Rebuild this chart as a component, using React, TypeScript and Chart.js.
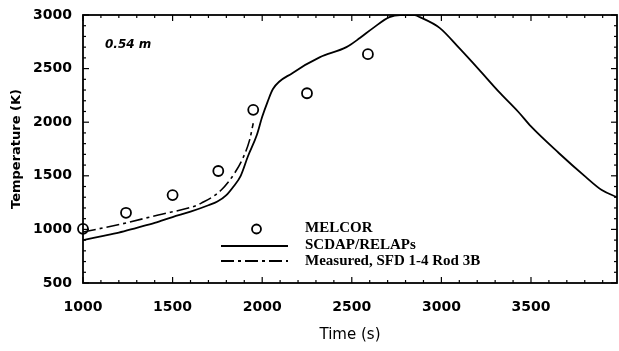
import React, { useEffect, useRef } from "react";
import { Chart, registerables } from "chart.js";

Chart.register(...registerables);

// ---- data ----
const melcorTime = [1000, 1240, 1500, 1755, 1950, 2250, 2590];
const melcorTemp = [1005, 1155, 1320, 1545, 2115, 2270, 2635];

const scdapTime = [1000, 1100, 1200, 1300, 1400, 1500, 1600, 1700, 1750, 1800, 1840, 1880, 1920, 1970, 2000, 2030, 2060, 2170, 2320, 2470, 2545, 2620, 2710, 2770, 2850, 2880, 2990, 3100, 3210, 3320, 3430, 3500, 3655, 3805, 3895, 3980];
const scdapTemp = [900, 935, 970, 1015, 1060, 1115, 1165, 1225, 1260, 1320, 1400, 1500, 1680, 1880, 2050, 2190, 2310, 2460, 2605, 2700, 2785, 2880, 2980, 3000, 3000, 2980, 2880, 2690, 2490, 2285, 2095, 1960, 1713, 1490, 1367, 1300];

const measuredTime = [1000, 1240, 1420, 1610, 1660, 1770, 1850, 1895, 1930, 1950];
const measuredTemp = [975, 1060, 1135, 1210, 1245, 1365, 1535, 1675, 1835, 1990];

const legendLabels = ["MELCOR", "SCDAP/RELAPs", "Measured, SFD 1-4 Rod 3B"];
const annotationText = "0.54 m";
const xTitle = "Time (s)";
const yTitle = "Temperature (K)";

const X_MIN = 1000;
const X_MAX = 3980;
const Y_MIN = 500;
const Y_MAX = 3000;
const MAJOR_X = 500;
const MAJOR_Y = 500;
const MINOR = 100;

const DASH_DOT = [13, 4, 3, 4];

const pts = (xs: number[], ys: number[]) => xs.map((x, i) => ({ x, y: ys[i] }));

const decorPlugin = {
  id: "decor",
  afterDraw(chart: any) {
    const { ctx, chartArea: a, scales } = chart;
    const xs = scales.x;
    const ys = scales.y;
    ctx.save();
    ctx.strokeStyle = "#000";
    ctx.fillStyle = "#000";
    ctx.lineWidth = 1.8;
    ctx.strokeRect(a.left, a.top, a.right - a.left, a.bottom - a.top);
    ctx.lineWidth = 1.2;
    const seg = (x1: number, y1: number, x2: number, y2: number) => {
      ctx.beginPath();
      ctx.moveTo(x1, y1);
      ctx.lineTo(x2, y2);
      ctx.stroke();
    };
    for (let v = X_MIN; v <= X_MAX; v += MINOR) {
      const px = xs.getPixelForValue(v);
      const len = v % MAJOR_X === 0 ? 6 : 3;
      seg(px, a.bottom, px, a.bottom - len);
      seg(px, a.top, px, a.top + len);
    }
    for (let v = Y_MIN; v <= Y_MAX; v += MINOR) {
      const py = ys.getPixelForValue(v);
      const len = v % MAJOR_Y === 0 ? 6 : 3;
      seg(a.left, py, a.left + len, py);
      seg(a.right, py, a.right - len, py);
    }

    // annotation
    ctx.font = "italic bold 12px 'DejaVu Sans'";
    ctx.textBaseline = "middle";
    ctx.textAlign = "left";
    ctx.fillText(annotationText, a.left + 22, a.top + 30);

    // legend
    const lx1 = a.left + 138;
    const lx2 = a.left + 205;
    const tx = a.left + 222;
    const rows = [a.top + 213, a.top + 230, a.top + 246];
    ctx.lineWidth = 1.8;
    ctx.beginPath();
    ctx.arc((lx1 + lx2) / 2 + 2, rows[0] + 1, 4.5, 0, Math.PI * 2);
    ctx.stroke();
    seg(lx1, rows[1] + 1, lx2, rows[1] + 1);
    ctx.setLineDash(DASH_DOT);
    seg(lx1, rows[2], lx2, rows[2]);
    ctx.setLineDash([]);
    ctx.font = "bold 15px 'Liberation Serif'";
    legendLabels.forEach((t, i) => ctx.fillText(t, tx, rows[i]));
    ctx.restore();
  },
};

export default function App() {
  const ref = useRef<HTMLCanvasElement | null>(null);
  useEffect(() => {
    if (!ref.current) return;
    const chart = new Chart(ref.current, {
      type: "scatter",
      data: {
        datasets: [
          {
            label: legendLabels[0],
            data: pts(melcorTime, melcorTemp),
            showLine: false,
            pointStyle: "circle",
            pointRadius: 5,
            pointBorderWidth: 1.8,
            borderColor: "#000",
            backgroundColor: "rgba(0,0,0,0)",
            clip: false,
          },
          {
            label: legendLabels[1],
            data: pts(scdapTime, scdapTemp),
            showLine: true,
            pointRadius: 0,
            borderWidth: 1.8,
            borderColor: "#000",
            cubicInterpolationMode: "monotone",
          },
          {
            label: legendLabels[2],
            data: pts(measuredTime, measuredTemp),
            showLine: true,
            pointRadius: 0,
            borderWidth: 1.6,
            borderColor: "#000",
            borderDash: DASH_DOT,
            cubicInterpolationMode: "monotone",
          },
        ],
      },
      options: {
        responsive: false,
        animation: false,
        layout: { autoPadding: false, padding: { left: 0, top: 15, right: 2, bottom: 0 } },
        plugins: { legend: { display: false }, tooltip: { enabled: false } },
        scales: {
          x: {
            type: "linear",
            min: X_MIN,
            max: X_MAX,
            grid: { display: false, drawTicks: false },
            border: { display: false },
            ticks: {
              stepSize: MINOR,
              autoSkip: false,
              maxRotation: 0,
              padding: 16,
              color: "#000",
              font: { family: "'DejaVu Sans'", size: 14, weight: "bold" },
              callback: (v: any) => (Number(v) % MAJOR_X === 0 ? String(v) : ""),
            },
            title: {
              display: true,
              text: xTitle,
              color: "#000",
              font: { family: "'DejaVu Sans'", size: 15 },
              padding: { top: 0, bottom: 7 },
            },
            afterFit: (s: any) => {
              s.height = 68;
              s.paddingLeft = 0;
              s.paddingRight = 0;
            },
          },
          y: {
            type: "linear",
            min: Y_MIN,
            max: Y_MAX,
            grid: { display: false, drawTicks: false },
            border: { display: false },
            ticks: {
              stepSize: MINOR,
              autoSkip: false,
              padding: 11,
              color: "#000",
              font: { family: "'DejaVu Sans'", size: 14, weight: "bold" },
              callback: (v: any) => (Number(v) % MAJOR_Y === 0 ? String(v) : ""),
            },
            title: {
              display: true,
              text: yTitle,
              color: "#000",
              font: { family: "'DejaVu Sans'", size: 13, weight: "bold" },
              padding: { top: 9, bottom: 0 },
            },
            afterFit: (s: any) => {
              s.width = 83;
              s.paddingTop = 0;
              s.paddingBottom = 0;
            },
          },
        },
      },
      plugins: [decorPlugin],
    } as any);
    return () => chart.destroy();
  }, []);
  return (
    <div style={{ position: "fixed", left: 0, top: 0, width: 619, height: 351, background: "#fff" }}>
      <canvas ref={ref} width={619} height={351} style={{ display: "block" }} />
    </div>
  );
}
